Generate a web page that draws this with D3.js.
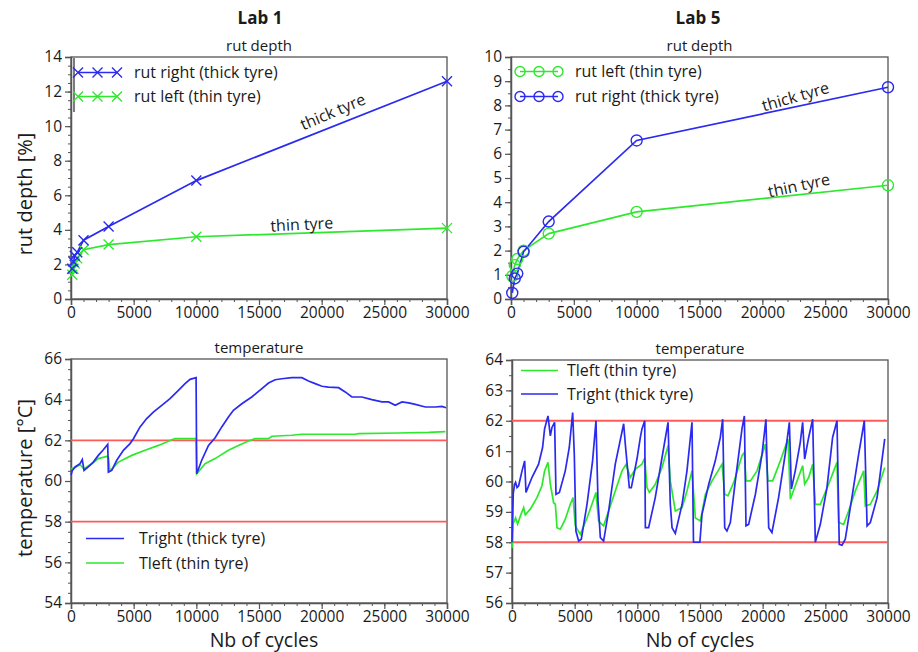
<!DOCTYPE html>
<html><head><meta charset="utf-8">
<script src="https://cdn.jsdelivr.net/npm/d3@7"></script>
<style>
body{margin:0;background:#fff;}
text{font-family:"Open Sans","Noto Sans",sans-serif;fill:#1a1a1a;}
</style></head><body>
<svg id="c" width="918" height="652"></svg>
<script>
// ---------- data ----------
const xTicks = [0,5000,10000,15000,20000,25000,30000];
const lab1RutX = [100,200,300,500,1000,3000,10000,30000];
const lab1RutThick = [1.75,2.15,2.5,2.7,3.4,4.2,6.85,12.6];
const lab1RutThin  = [1.4,1.75,2.05,2.35,2.85,3.15,3.6,4.1];
const lab5RutX = [100,300,500,1000,3000,10000,30000];
const lab5RutThin  = [0.95,1.4,1.65,2.0,2.7,3.6,4.7];
const lab5RutThick = [0.25,0.85,1.05,1.95,3.2,6.55,8.75];

const lab1Tright = [[0,60.3],[100,60.5],[320,60.69],[720,60.85],[900,61.05],[1040,60.52],[1380,60.69],[1780,60.93],[2180,61.26],[2580,61.54],[2930,61.8],[2980,60.44],[3250,60.52],[3650,61.02],[4180,61.51],[4710,61.84],[4980,62.08],[5510,62.66],[6040,63.07],[6570,63.39],[7240,63.72],[7900,64.05],[8570,64.46],[9100,64.79],[9500,65.0],[9980,65.08],[10030,60.36],[10430,61.02],[10970,61.75],[11500,62.13],[12030,62.66],[12560,63.15],[12960,63.48],[13630,63.8],[14420,64.13],[15230,64.54],[15760,64.82],[16290,64.98],[16830,65.03],[17620,65.08],[18420,65.08],[18950,64.92],[19480,64.79],[20020,64.66],[20550,64.62],[21350,64.59],[21880,64.38],[22410,64.13],[23210,64.13],[24010,64.0],[24810,63.89],[25340,63.89],[25870,63.72],[26410,63.89],[26940,63.84],[27470,63.77],[28270,63.64],[29070,63.64],[29600,63.67],[29920,63.6]];
const lab1Tleft = [[0,60.6],[300,60.65],[720,60.8],[1040,60.6],[1650,60.85],[2180,61.1],[2850,61.21],[2980,61.18],[3110,60.49],[3780,60.93],[4850,61.26],[5910,61.51],[6980,61.75],[8040,62.03],[8300,62.08],[9980,62.08],[10030,60.36],[10700,60.85],[11500,61.1],[12560,61.51],[13360,61.75],[14160,61.97],[14690,62.08],[15760,62.08],[16030,62.2],[17620,62.25],[18420,62.3],[22680,62.3],[22940,62.33],[26140,62.36],[28540,62.39],[29870,62.43]];
const lab5Tright = [[0,58.0],[100,59.6],[200,59.9],[286,59.97],[400,59.8],[530,59.86],[800,60.35],[1010,60.68],[1115,59.64],[1590,60.13],[2120,60.57],[2440,61.12],[2600,61.73],[2870,62.16],[3060,61.5],[3190,61.78],[3400,61.95],[3510,59.58],[3780,59.64],[4250,60.35],[4570,61.12],[4840,62.27],[4970,60.9],[5100,58.37],[5320,58.04],[5530,58.1],[5985,59.25],[6430,60.68],[6700,62.0],[6860,59.36],[7050,58.15],[7310,58.04],[7710,59.03],[8240,60.57],[8910,61.9],[9040,61.23],[9360,59.8],[9520,59.8],[9970,60.74],[10240,61.45],[10370,61.73],[10590,62.0],[10640,58.48],[10900,58.48],[11430,59.47],[11970,60.79],[12450,61.95],[12630,59.25],[12770,58.48],[13030,58.29],[13570,59.25],[13960,60.35],[14360,61.95],[14480,58.0],[14990,58.0],[15160,58.92],[15690,59.9],[16220,60.68],[16620,61.45],[16810,62.05],[16970,58.48],[17150,58.37],[17420,58.65],[17820,60.02],[18350,61.73],[18540,62.16],[18670,58.54],[18880,58.59],[19420,59.58],[19950,60.9],[20260,62.05],[20480,58.48],[20740,58.32],[21270,59.47],[21800,60.9],[22130,61.95],[22290,59.75],[22600,60.35],[23000,61.29],[23190,61.95],[23350,60.74],[23670,61.45],[23990,62.05],[24200,58.0],[24600,58.59],[25130,59.8],[25580,61.45],[25930,62.0],[26110,57.93],[26330,57.9],[26590,58.1],[27120,59.47],[27660,60.9],[28110,62.0],[28330,58.54],[28590,58.65],[29130,59.47],[29740,61.4]];
const lab5Tleft = [[0,57.8],[80,58.6],[286,58.8],[450,58.6],[700,58.9],[930,59.14],[1060,58.9],[1460,59.09],[1990,59.47],[2390,59.86],[2600,60.35],[2870,60.63],[3060,59.91],[3320,59.3],[3460,59.25],[3590,58.48],[3860,58.43],[4250,58.76],[4650,59.25],[4870,59.47],[5050,58.54],[5450,58.26],[5985,58.8],[6380,59.25],[6700,59.64],[6910,58.7],[7310,58.54],[7710,59.03],[8240,59.69],[8780,60.35],[9100,60.57],[9440,60.13],[9840,60.41],[10370,60.57],[10590,60.77],[10770,59.8],[10960,59.64],[11430,59.91],[11970,60.46],[12450,61.18],[12630,60.02],[13030,59.03],[13570,59.14],[13960,59.69],[14360,60.35],[14630,58.8],[15030,58.7],[15430,59.58],[15960,60.02],[16760,60.57],[16970,59.58],[17230,59.53],[17690,59.97],[18350,60.85],[18540,60.96],[18670,60.02],[19020,60.02],[19550,60.35],[20210,61.23],[20420,60.02],[20800,60.02],[21410,60.68],[22020,61.4],[22210,59.42],[22600,59.86],[23190,60.52],[23350,59.91],[23670,60.13],[23990,60.57],[24200,59.25],[24600,59.25],[25260,59.91],[25930,60.63],[26060,58.65],[26460,58.59],[26860,59.03],[27390,59.69],[28060,60.35],[28190,59.2],[28590,59.25],[29130,59.69],[29740,60.46]];
const limits = [62,58];

const BLUE = "#2a2af0", GREEN = "#2ee82e", RED = "#ff5a5a", AX = "#555";
const LW = 1.7;
const svg = d3.select("#c");

function panel(o){
  const x = d3.scaleLinear().domain([0,30000]).range([o.x0,o.x1]);
  const y = d3.scaleLinear().domain(o.yd).range([o.y1,o.y0]);
  const g = svg.append("g");
  g.append("rect").attr("x",o.x0).attr("y",o.y0).attr("width",o.x1-o.x0).attr("height",o.y1-o.y0)
    .attr("fill","none").attr("stroke",AX).attr("stroke-width",1.3);
  const xMinor = d3.range(0,30001,1000);
  g.append("g").attr("transform",`translate(0,${o.y1})`)
    .call(d3.axisBottom(x).tickValues(xMinor).tickSize(3).tickFormat(""))
    .call(a=>{a.select(".domain").remove();a.selectAll("line").attr("stroke",AX);});
  const yMinor = d3.range(o.yd[0],o.yd[1]+1e-9,o.minor);
  g.append("g").attr("transform",`translate(${o.x0},0)`)
    .call(d3.axisLeft(y).tickValues(yMinor).tickSize(3).tickFormat(""))
    .call(a=>{a.select(".domain").remove();a.selectAll("line").attr("stroke",AX);});
  g.append("g").attr("transform",`translate(0,${o.y1})`)
    .call(d3.axisBottom(x).tickValues(xTicks).tickSize(6).tickPadding(2).tickFormat(d3.format("d")))
    .call(a=>{a.select(".domain").attr("stroke",AX).attr("stroke-width",1.5);a.selectAll("line").attr("stroke",AX).attr("stroke-width",1.2);
      a.selectAll("text").style("font-size","15.5px").attr("fill","#1a1a1a");});
  g.append("g").attr("transform",`translate(${o.x0},0)`)
    .call(d3.axisLeft(y).tickValues(o.yt).tickSize(6).tickPadding(3).tickFormat(d3.format("d")))
    .call(a=>{a.select(".domain").attr("stroke",AX).attr("stroke-width",1.5);a.selectAll("line").attr("stroke",AX).attr("stroke-width",1.2);
      a.selectAll("text").style("font-size","15.5px").attr("fill","#1a1a1a");});
  g.append("text").attr("x",(o.x0+o.x1)/2).attr("y",o.y0-6).attr("text-anchor","middle")
    .style("font-size","15px").text(o.sub);
  return {x,y,g};
}

function xMark(g,cx,cy,col,r){
  g.append("path").attr("d",`M${cx-r},${cy-r}L${cx+r},${cy+r}M${cx-r},${cy+r}L${cx+r},${cy-r}`)
    .attr("stroke",col).attr("stroke-width",1.4).attr("fill","none");
}
function oMark(g,cx,cy,col,r){
  g.append("circle").attr("cx",cx).attr("cy",cy).attr("r",r).attr("fill","none").attr("stroke",col).attr("stroke-width",1.4);
}

svg.append("text").attr("x",260).attr("y",24).attr("text-anchor","middle").style("font-size","17px").style("font-weight","bold").text("Lab 1");
svg.append("text").attr("x",698).attr("y",24).attr("text-anchor","middle").style("font-size","17px").style("font-weight","bold").text("Lab 5");

// ---- Panel 1 ----
const p1 = panel({x0:71,x1:447,y0:57,y1:299,yd:[0,14],yt:d3.range(0,15,2),minor:0.5,sub:"rut depth"});
const line1 = (xs,ys)=>d3.line()(xs.map((v,i)=>[p1.x(v),p1.y(ys[i])]));
p1.g.append("path").attr("d",line1(lab1RutX,lab1RutThin)).attr("stroke",GREEN).attr("fill","none").attr("stroke-width",LW);
p1.g.append("path").attr("d",line1(lab1RutX,lab1RutThick)).attr("stroke",BLUE).attr("fill","none").attr("stroke-width",LW);
lab1RutX.forEach((v,i)=>{xMark(p1.g,p1.x(v),p1.y(lab1RutThin[i]),GREEN,5);});
lab1RutX.forEach((v,i)=>{xMark(p1.g,p1.x(v),p1.y(lab1RutThick[i]),BLUE,5);});
p1.g.append("line").attr("x1",74).attr("x2",74).attr("y1",58).attr("y2",112).attr("stroke","#444").attr("stroke-width",1.4);
[[72.5,BLUE,"rut right (thick tyre)"],[96.5,GREEN,"rut left (thin tyre)"]].forEach(([ly,c,t])=>{
  p1.g.append("line").attr("x1",78).attr("x2",117).attr("y1",ly).attr("y2",ly).attr("stroke",c).attr("stroke-width",LW);
  [78,97.5,117].forEach(mx=>xMark(p1.g,mx,ly,c,5));
  p1.g.append("text").attr("x",134).attr("y",ly+5.5).style("font-size","16px").text(t);
});
p1.g.append("text").attr("transform","translate(335,117) rotate(-23)").attr("text-anchor","middle").style("font-size","16px").text("thick tyre");
p1.g.append("text").attr("transform","translate(302,230) rotate(-3)").attr("text-anchor","middle").style("font-size","16px").text("thin tyre");

// ---- Panel 2 ----
const p2 = panel({x0:511,x1:888,y0:57,y1:299,yd:[0,10],yt:d3.range(0,11,1),minor:0.5,sub:"rut depth"});
const line2 = (xs,ys)=>d3.line()(xs.map((v,i)=>[p2.x(v),p2.y(ys[i])]));
p2.g.append("path").attr("d",line2(lab5RutX,lab5RutThin)).attr("stroke",GREEN).attr("fill","none").attr("stroke-width",LW);
p2.g.append("path").attr("d",line2(lab5RutX,lab5RutThick)).attr("stroke",BLUE).attr("fill","none").attr("stroke-width",LW);
lab5RutX.forEach((v,i)=>{oMark(p2.g,p2.x(v),p2.y(lab5RutThin[i]),GREEN,5.5);});
lab5RutX.forEach((v,i)=>{oMark(p2.g,p2.x(v),p2.y(lab5RutThick[i]),BLUE,5.5);});
[[71.5,GREEN,"rut left (thin tyre)"],[96.5,BLUE,"rut right (thick tyre)"]].forEach(([ly,c,t])=>{
  p2.g.append("line").attr("x1",520).attr("x2",558).attr("y1",ly).attr("y2",ly).attr("stroke",c).attr("stroke-width",LW);
  [520,539,558].forEach(mx=>oMark(p2.g,mx,ly,c,5));
  p2.g.append("text").attr("x",575).attr("y",ly+5.5).style("font-size","16px").text(t);
});
p2.g.append("text").attr("transform","translate(797,102) rotate(-16)").attr("text-anchor","middle").style("font-size","16px").text("thick tyre");
p2.g.append("text").attr("transform","translate(800,191) rotate(-12)").attr("text-anchor","middle").style("font-size","16px").text("thin tyre");

// ---- Panel 3 ----
const p3 = panel({x0:71,x1:447,y0:359,y1:603,yd:[54,66],yt:d3.range(54,67,2),minor:0.5,sub:"temperature"});
limits.forEach(v=>p3.g.append("line").attr("x1",71).attr("x2",447).attr("y1",p3.y(v)).attr("y2",p3.y(v)).attr("stroke",RED).attr("stroke-width",1.8));
const l3 = d3.line().x(d=>p3.x(d[0])).y(d=>p3.y(d[1]));
p3.g.append("path").attr("d",l3(lab1Tleft)).attr("stroke",GREEN).attr("fill","none").attr("stroke-width",LW);
p3.g.append("path").attr("d",l3(lab1Tright)).attr("stroke",BLUE).attr("fill","none").attr("stroke-width",LW);
[[538.5,BLUE,"Tright (thick tyre)"],[563,GREEN,"Tleft (thin tyre)"]].forEach(([ly,c,t])=>{
  p3.g.append("line").attr("x1",86).attr("x2",124).attr("y1",ly).attr("y2",ly).attr("stroke",c).attr("stroke-width",LW);
  p3.g.append("text").attr("x",139).attr("y",ly+5.5).style("font-size","16px").text(t);
});

// ---- Panel 4 ----
const p4 = panel({x0:512,x1:888,y0:360,y1:603,yd:[56,64],yt:d3.range(56,65,1),minor:0.5,sub:"temperature"});
limits.forEach(v=>p4.g.append("line").attr("x1",512).attr("x2",888).attr("y1",p4.y(v)).attr("y2",p4.y(v)).attr("stroke",RED).attr("stroke-width",1.8));
const l4 = d3.line().x(d=>p4.x(d[0])).y(d=>p4.y(d[1]));
p4.g.append("path").attr("d",l4(lab5Tleft)).attr("stroke",GREEN).attr("fill","none").attr("stroke-width",LW);
p4.g.append("path").attr("d",l4(lab5Tright)).attr("stroke",BLUE).attr("fill","none").attr("stroke-width",LW);
[[370.5,GREEN,"Tleft (thin tyre)"],[394,BLUE,"Tright (thick tyre)"]].forEach(([ly,c,t])=>{
  p4.g.append("line").attr("x1",521).attr("x2",558).attr("y1",ly).attr("y2",ly).attr("stroke",c).attr("stroke-width",LW);
  p4.g.append("text").attr("x",567).attr("y",ly+5.5).style("font-size","16px").text(t);
});

svg.append("text").attr("transform","translate(32,194) rotate(-90)").attr("text-anchor","middle").style("font-size","20px").text("rut depth [%]");
svg.append("text").attr("transform","translate(32,478) rotate(-90)").attr("text-anchor","middle").style("font-size","20px").text("temperature [°C]");
svg.append("text").attr("x",264).attr("y",647).attr("text-anchor","middle").style("font-size","19.5px").text("Nb of cycles");
svg.append("text").attr("x",700).attr("y",647).attr("text-anchor","middle").style("font-size","19.5px").text("Nb of cycles");
</script></body></html>
